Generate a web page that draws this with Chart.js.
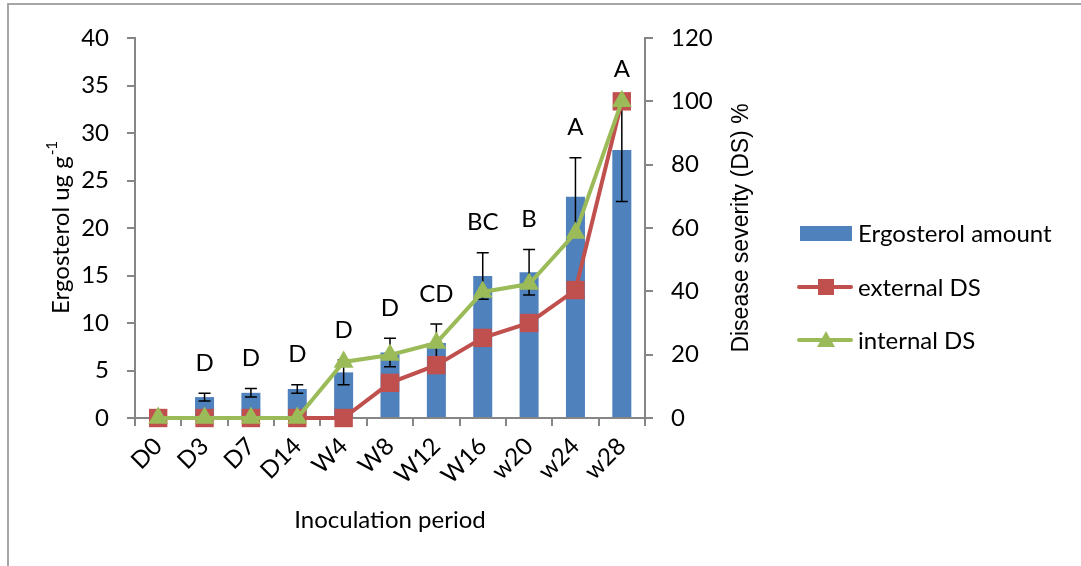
<!DOCTYPE html>
<html lang="en">
<head>
  <meta charset="UTF-8" />
  <title>Ergosterol and disease severity</title>
  <script src="https://cdn.jsdelivr.net/npm/chart.js"></script>
  <style>
    html, body {
      margin: 0;
      padding: 0;
      background: #fff;
      overflow: hidden;
    }
    .frame {
      position: absolute;
      left: 7px;
      top: 3px;
      width: 1300px;
      height: 800px;
      border: 2px solid #a6a6a6;
    }
    #chart {
      position: absolute;
      left: 0;
      top: 0;
    }
  </style>
</head>
<body>
  <div class="frame"></div>
  <canvas id="chart" width="1081" height="566"></canvas>

  <script>
    // datos
    const periods = ["D0", "D3", "D7", "D14", "W4", "W8", "W12", "W16", "w20", "w24", "w28"];
    const ergosterol = [0, 2.2, 2.65, 3.05, 4.8, 6.9, 7.9, 14.95, 15.35, 23.3, 28.2];
    const ergosterolErr = [0, 0.4, 0.45, 0.45, 1.3, 1.5, 2.0, 2.45, 2.4, 4.1, 5.4];
    const externalDS = [0, 0, 0, 0, 0, 11.1, 16.7, 25.3, 30, 40.4, 100];
    const internalDS = [0, 0, 0, 0, 17.7, 19.9, 23.7, 39.8, 42.3, 58.4, 100];
    const letters = ["", "D", "D", "D", "D", "D", "CD", "BC", "B", "A", "A"];

    const BLUE = "#4f81bd";
    const RED = "#c0504d";
    const GREEN = "#9bbb59";
    const AXIS = "#868686";
    const FONT = "Lato, 'Open Sans', sans-serif";
    const FS = 24;

    // barras de error, letras, titulos y leyenda
    const extras = {
      id: "extras",
      afterDatasetDraw(chart, args) {
        if (args.index !== 2) return;
        const ctx = chart.ctx;
        const x = chart.scales.x, y = chart.scales.y;
        ctx.save();
        ctx.strokeStyle = "#000";
        ctx.lineWidth = 1.5;
        ergosterolErr.forEach((e, i) => {
          if (!e) return;
          const cx = x.getPixelForValue(i);
          const top = y.getPixelForValue(ergosterol[i] + e);
          const bot = y.getPixelForValue(ergosterol[i] - e);
          ctx.beginPath();
          ctx.moveTo(cx, top); ctx.lineTo(cx, bot);
          ctx.moveTo(cx - 6, top); ctx.lineTo(cx + 6, top);
          ctx.moveTo(cx - 6, bot); ctx.lineTo(cx + 6, bot);
          ctx.stroke();
        });
        ctx.restore();
      },
      afterDraw(chart) {
        const ctx = chart.ctx;
        const x = chart.scales.x, y = chart.scales.y;
        const area = chart.chartArea;
        ctx.save();
        ctx.fillStyle = "#000";

        // letras de significancia
        ctx.font = FS + "px " + FONT;
        ctx.textAlign = "center";
        ctx.textBaseline = "middle";
        letters.forEach((l, i) => {
          if (!l) return;
          const top = y.getPixelForValue(ergosterol[i] + ergosterolErr[i]);
          ctx.fillText(l, x.getPixelForValue(i), top - 30);
        });

        // titulo eje x
        ctx.fillText("Inoculation period", (area.left + area.right) / 2, 520);

        // titulo eje izquierdo con superindice
        ctx.save();
        ctx.translate(60, (area.top + area.bottom) / 2);
        ctx.rotate(-Math.PI / 2);
        ctx.textAlign = "left";
        ctx.textBaseline = "alphabetic";
        const main = "Ergosterol ug g";
        ctx.font = "15px " + FONT;
        const supW = ctx.measureText("-1").width;
        ctx.font = FS + "px " + FONT;
        const mainW = ctx.measureText(main).width;
        const startX = -(mainW + supW) / 2;
        ctx.fillText(main, startX, 9);
        ctx.font = "15px " + FONT;
        ctx.fillText("-1", startX + mainW + 1, -3);
        ctx.restore();

        // titulo eje derecho
        ctx.save();
        ctx.translate(742, (area.top + area.bottom) / 2);
        ctx.rotate(-Math.PI / 2);
        ctx.font = "23px 'Liberation Sans', Arial, sans-serif";
        ctx.textAlign = "center";
        ctx.textBaseline = "middle";
        ctx.fillText("Disease severity (DS) %", 0, 0);
        ctx.restore();

        // leyenda
        ctx.font = FS + "px " + FONT;
        ctx.textAlign = "left";
        ctx.textBaseline = "middle";
        ctx.fillStyle = BLUE;
        ctx.fillRect(800, 226, 52, 15);
        ctx.fillStyle = "#000";
        ctx.fillText("Ergosterol amount", 858, 234);

        ctx.lineCap = "round";
        ctx.lineWidth = 4;
        ctx.strokeStyle = RED;
        ctx.beginPath(); ctx.moveTo(799, 287); ctx.lineTo(851, 287); ctx.stroke();
        ctx.fillStyle = RED;
        ctx.fillRect(818, 279, 16, 16);
        ctx.fillStyle = "#000";
        ctx.fillText("external DS", 858, 288);

        ctx.strokeStyle = GREEN;
        ctx.beginPath(); ctx.moveTo(799, 340); ctx.lineTo(851, 340); ctx.stroke();
        ctx.fillStyle = GREEN;
        ctx.beginPath();
        ctx.moveTo(826, 331); ctx.lineTo(835, 347); ctx.lineTo(817, 347);
        ctx.closePath(); ctx.fill();
        ctx.fillStyle = "#000";
        ctx.fillText("internal DS", 858, 341);

        ctx.restore();
      }
    };

    function makeChart() {
      const ctx = document.getElementById("chart").getContext("2d");
      new Chart(ctx, {
        data: {
          labels: periods,
          datasets: [
            {
              type: "line",
              label: "internal DS",
              data: internalDS,
              yAxisID: "y2",
              borderColor: GREEN,
              backgroundColor: GREEN,
              borderWidth: 4,
              pointStyle: "triangle",
              pointRadius: 11.5,
              pointBorderWidth: 0,
              tension: 0,
              clip: false,
              order: 0
            },
            {
              type: "line",
              label: "external DS",
              data: externalDS,
              yAxisID: "y2",
              borderColor: RED,
              backgroundColor: RED,
              borderWidth: 4,
              pointStyle: "rect",
              pointRadius: 13,
              pointBorderWidth: 0,
              tension: 0,
              clip: false,
              order: 1
            },
            {
              type: "bar",
              label: "Ergosterol amount",
              data: ergosterol,
              yAxisID: "y",
              backgroundColor: BLUE,
              barPercentage: 0.41,
              categoryPercentage: 1,
              order: 2
            }
          ]
        },
        options: {
          responsive: false,
          animation: false,
          devicePixelRatio: 1,
          layout: { padding: { top: 38, right: 346, bottom: 0, left: 0 } },
          plugins: { legend: { display: false }, tooltip: { enabled: false } },
          scales: {
            x: {
              offset: true,
              grid: { display: true, drawOnChartArea: false, offset: true, color: AXIS, tickLength: 8, lineWidth: 2 },
              border: { color: AXIS, width: 2 },
              ticks: { color: "#000", font: { size: FS, family: FONT }, maxRotation: 45, minRotation: 45, padding: 6 },
              afterFit(s) { s.height = 148; }
            },
            y: {
              position: "left",
              min: 0, max: 40,
              ticks: { stepSize: 5, color: "#000", font: { size: FS, family: FONT }, padding: 18 },
              grid: { drawOnChartArea: false, color: AXIS, tickLength: 8, lineWidth: 2 },
              border: { color: AXIS, width: 2 },
              afterFit(s) { s.width = 135; }
            },
            y2: {
              position: "right",
              min: 0, max: 120,
              ticks: { stepSize: 20, color: "#000", font: { size: FS, family: FONT }, padding: 18 },
              grid: { drawOnChartArea: false, color: AXIS, tickLength: 8, lineWidth: 2 },
              border: { color: AXIS, width: 2 },
              afterFit(s) { s.width = 90; }
            }
          }
        },
        plugins: [extras]
      });
    }

    if (document.fonts && document.fonts.load) {
      Promise.all([
        document.fonts.load("24px Lato"),
        document.fonts.load("23px 'Liberation Sans'")
      ]).then(makeChart, makeChart);
    } else {
      makeChart();
    }
  </script>
</body>
</html>
